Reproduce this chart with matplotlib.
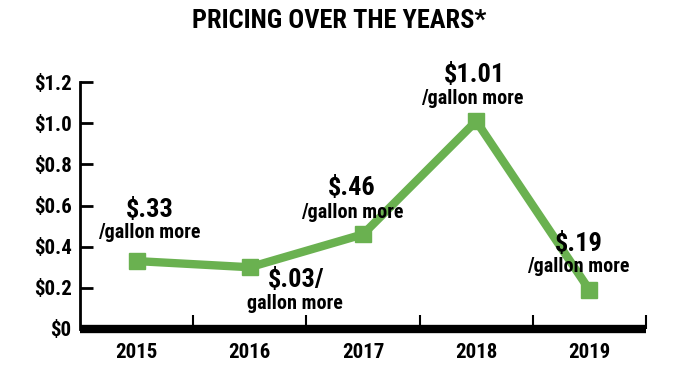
import matplotlib
matplotlib.use("Agg")
import matplotlib.pyplot as plt
from matplotlib import font_manager as fm
from matplotlib.font_manager import FontProperties

years = ["2015", "2016", "2017", "2018", "2019"]
values = [0.33, 0.30, 0.46, 1.01, 0.19]
big_labels = ["$.33", "$.03/", "$.46", "$1.01", "$.19"]
small_labels = ["/gallon more", "gallon more", "/gallon more", "/gallon more", "/gallon more"]
yticks = [0, 0.2, 0.4, 0.6, 0.8, 1.0, 1.2]
ytick_labels = ["$0", "$0.2", "$0.4", "$0.6", "$0.8", "$1.0", "$1.2"]


def stretch_val(f):
    s = f.stretch
    if isinstance(s, str):
        m = {"ultra-condensed": 100, "extra-condensed": 200, "condensed": 300,
             "semi-condensed": 400, "normal": 500}
        return m.get(s, 500)
    return s


def weight_val(f):
    w = f.weight
    if isinstance(w, str):
        m = {"bold": 700, "semibold": 600, "demibold": 600, "medium": 500, "normal": 400,
             "regular": 400, "book": 400, "heavy": 800, "black": 900, "extra bold": 800,
             "light": 300}
        return m.get(w, 400)
    return w


def is_cond(f):
    n = f.fname.lower()
    return ("condensed" in n or "narrow" in n or stretch_val(f) < 500) and "italic" not in n and "oblique" not in n


cands = [f for f in fm.fontManager.ttflist if is_cond(f) and f.fname.lower().endswith((".ttf", ".otf"))]
prio = ["Roboto", "Noto Sans", "Open Sans", "Liberation Sans", "DejaVu Sans"]


def pick(target_w):
    best = None
    for f in cands:
        fam_rank = next((i for i, p in enumerate(prio) if f.name.startswith(p)), 10)
        score = (fam_rank, abs(weight_val(f) - target_w), abs(stretch_val(f) - 300))
        if best is None or score < best[0]:
            best = (score, f)
    return best[1].fname if best else None


bold_file = pick(700)
med_file = pick(600)


def fp(size, bold=True):
    path = bold_file if bold else med_file
    if path:
        return FontProperties(fname=path, size=size)
    return FontProperties(family="DejaVu Sans", weight="bold", size=size * 0.8)


green = "#6ab150"
fig = plt.figure(figsize=(6.84, 3.70), dpi=100)
ax = fig.add_axes([80/684, 1-329/370, (646-80)/684, (329-82)/370])
x = list(range(len(years)))
ax.plot(x, values, color=green, lw=6, marker="s", ms=12, solid_joinstyle="miter", zorder=3)
ax.set_xlim(-0.5, 4.5)
ax.set_ylim(0, 1.2)

for s in ["top", "right"]:
    ax.spines[s].set_visible(False)
ax.spines["left"].set_linewidth(2)
ax.spines["bottom"].set_linewidth(6)
ax.spines["bottom"].set_capstyle("butt")

ax.set_yticks(yticks)
ax.set_yticklabels(ytick_labels, fontproperties=fp(15))
ax.tick_params(axis="y", direction="in", length=9, width=2, pad=6)
ax.set_xticks([i + 0.5 for i in range(len(years))])
ax.set_xticklabels([])
ax.tick_params(axis="x", direction="in", length=10, width=1.5)
ax.set_xticks(x, minor=True)
ax.set_xticklabels(years, minor=True, fontproperties=fp(15))
ax.tick_params(axis="x", which="minor", length=0, pad=10)

offs_big = [(13, 51), (46, -13), (-11, 46), (-2, 46), (-11, 46)]
offs_small = [(13, 29), (45, -36), (-11, 22), (-4, 23), (-11, 23)]
for i in range(len(years)):
    ax.annotate(big_labels[i], (x[i], values[i]), xytext=offs_big[i], textcoords="offset pixels",
                ha="center", va="center", fontproperties=fp(19))
    ax.annotate(small_labels[i], (x[i], values[i]), xytext=offs_small[i], textcoords="offset pixels",
                ha="center", va="center", fontproperties=fp(14.5, bold=False))

fig.text(339/684, 1-21/370, "PRICING OVER THE YEARS*", ha="center", va="center",
         fontproperties=fp(19))
fig.savefig("out.png", dpi=100)
